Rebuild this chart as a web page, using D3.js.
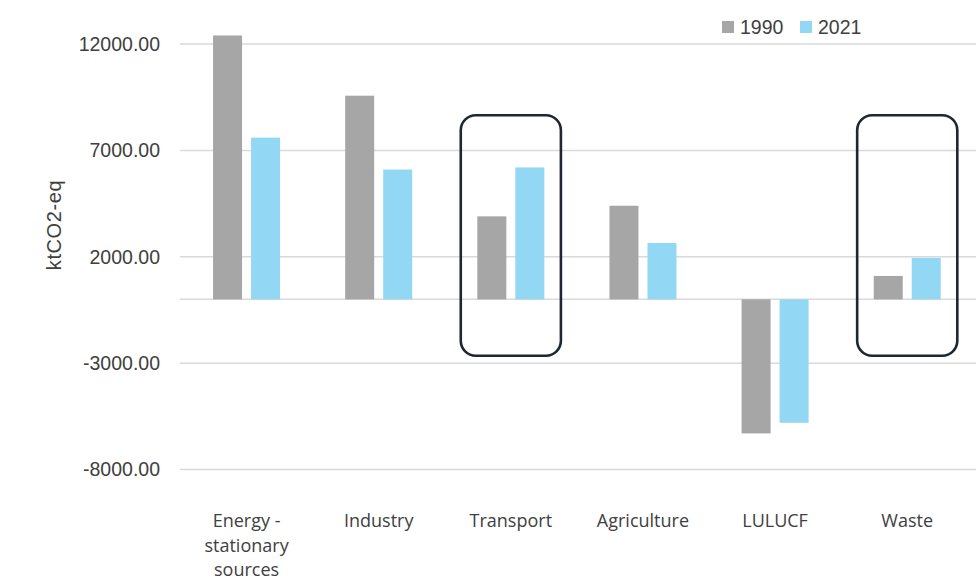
<!DOCTYPE html>
<html>
<head>
<meta charset="utf-8">
<script src="https://cdn.jsdelivr.net/npm/d3@7"></script>
<style>
  html, body { margin: 0; padding: 0; background: #ffffff; }
  svg { display: block; }
</style>
</head>
<body>
<svg id="chart" width="976" height="583"></svg>
<script>
// Greenhouse gas emissions by sector, 1990 vs 2021 (ktCO2-eq)
const categories = ["Energy - stationary sources", "Industry", "Transport", "Agriculture", "LULUCF", "Waste"];
const labelLines = [["Energy -", "stationary", "sources"], ["Industry"], ["Transport"], ["Agriculture"], ["LULUCF"], ["Waste"]];
const seriesNames = ["1990", "2021"];
const values1990 = [12400, 9570, 3900, 4400, -6300, 1100];
const values2021 = [7600, 6100, 6200, 2650, -5800, 1950];
const yTicks = [12000, 7000, 2000, -3000, -8000];
const highlighted = ["Transport", "Waste"];
const highlightSpan = [8650, -2650];
const colors = ["#a6a6a6", "#92d7f4"];

const svg = d3.select("#chart");

const x = d3.scaleBand().domain(categories).range([180.5, 973.3]).padding(0);
const xSub = d3.scaleBand().domain(seriesNames).range([0, x.bandwidth()])
  .paddingInner(0.237).paddingOuter(0.857);
const y = d3.scaleLinear().domain([-8000, 12000]).range([469.6, 44]);

// horizontal gridlines, including the zero baseline
const gridValues = yTicks.concat([0]);
svg.append("g").selectAll("line").data(gridValues).join("line")
  .attr("x1", 180).attr("x2", 976)
  .attr("y1", d => y(d)).attr("y2", d => y(d))
  .attr("stroke", "#d9d9d9").attr("stroke-width", 1.5);

// y axis tick labels (plain hyphen for negatives)
const fmt = d3.format(".2f");
const yAxis = d3.axisLeft(y).tickValues(yTicks)
  .tickFormat(d => fmt(d).replace("\u2212", "-"))
  .tickSize(0).tickPadding(0);
const gy = svg.append("g").attr("transform", "translate(160,0)").call(yAxis);
gy.select(".domain").remove();
gy.selectAll("text")
  .attr("font-family", "'Liberation Sans', Arial, sans-serif")
  .attr("font-size", 19.5)
  .attr("fill", "#404040");

// y axis title
svg.append("text")
  .attr("transform", "translate(61,225) rotate(-90)")
  .attr("text-anchor", "middle")
  .attr("font-family", "'Liberation Sans', Arial, sans-serif")
  .attr("font-size", 20)
  .attr("letter-spacing", 0.6)
  .attr("fill", "#404040")
  .text("ktCO2-eq");

// bars
const rows = categories.map((c, i) => ({ cat: c, vals: [values1990[i], values2021[i]] }));
const groups = svg.append("g").selectAll("g").data(rows).join("g")
  .attr("transform", d => `translate(${x(d.cat)},0)`);
groups.selectAll("rect")
  .data(d => d.vals.map((v, j) => ({ series: seriesNames[j], value: v, j })))
  .join("rect")
  .attr("x", d => xSub(d.series))
  .attr("width", xSub.bandwidth())
  .attr("y", d => y(Math.max(0, d.value)))
  .attr("height", d => Math.abs(y(d.value) - y(0)))
  .attr("fill", d => colors[d.j]);

// highlight frames around selected sectors
svg.append("g").selectAll("rect").data(highlighted).join("rect")
  .attr("x", d => x(d) + 16)
  .attr("width", x.bandwidth() - 32)
  .attr("y", y(highlightSpan[0]))
  .attr("height", y(highlightSpan[1]) - y(highlightSpan[0]))
  .attr("rx", 15).attr("ry", 15)
  .attr("fill", "none")
  .attr("stroke", "#1e2833")
  .attr("stroke-width", 2.6);

// category labels
const lab = svg.append("g").selectAll("text").data(categories).join("text")
  .attr("x", d => x(d) + x.bandwidth() / 2)
  .attr("y", 527)
  .attr("text-anchor", "middle")
  .attr("font-family", "'Open Sans', sans-serif")
  .attr("font-size", 18)
  .attr("fill", "#404040");
lab.selectAll("tspan").data((d, i) => labelLines[i]).join("tspan")
  .attr("x", function () { return d3.select(this.parentNode).attr("x"); })
  .attr("dy", (d, i) => i === 0 ? 0 : 24.5)
  .text(d => d);

// legend
const legend = svg.append("g").attr("transform", "translate(722,21)");
const li = legend.selectAll("g").data(seriesNames).join("g")
  .attr("transform", (d, i) => `translate(${i * 78},0)`);
li.append("rect").attr("width", 12).attr("height", 12).attr("fill", (d, i) => colors[i]);
li.append("text")
  .attr("x", 18).attr("y", 12.5)
  .attr("font-family", "'Liberation Sans', Arial, sans-serif")
  .attr("font-size", 19.5)
  .attr("fill", "#404040")
  .text(d => d);
</script>
</body>
</html>
